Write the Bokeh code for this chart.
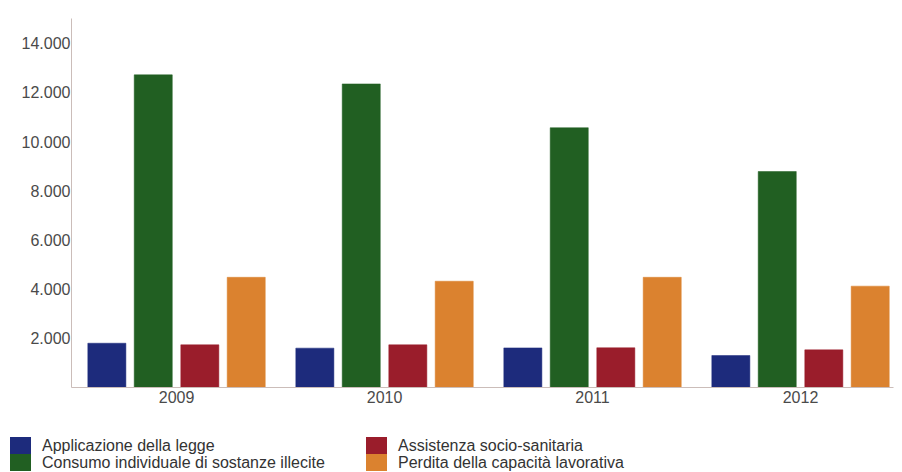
from bokeh.plotting import figure
from bokeh.layouts import column
from bokeh.models import ColumnDataSource, Range1d, FixedTicker, CustomJSTickFormatter, Div
from bokeh.transform import dodge
from bokeh.embed import file_html
from bokeh.resources import INLINE

years = ["2009", "2010", "2011", "2012"]
applicazione = [1800, 1600, 1610, 1300]
consumo = [12710, 12340, 10560, 8780]
assistenza = [1735, 1735, 1615, 1530]
perdita = [4480, 4320, 4480, 4120]

series_names = ["Applicazione della legge", "Consumo individuale di sostanze illecite",
                "Assistenza socio-sanitaria", "Perdita della capacità lavorativa"]
series_keys = ["applicazione", "consumo", "assistenza", "perdita"]
colors = ["#1d2b7c", "#215f22", "#9a1d2b", "#db822f"]
offsets = [-0.335, -0.112, 0.112, 0.335]
y_ticks = [2000, 4000, 6000, 8000, 10000, 12000, 14000]

source = ColumnDataSource(dict(
    x=list(range(len(years))),
    applicazione=applicazione, consumo=consumo,
    assistenza=assistenza, perdita=perdita,
))

p = figure(width=900, height=420, output_backend="svg", toolbar_location=None,
           x_range=Range1d(-0.505, 3.447), y_range=Range1d(0, 15000),
           min_border_left=71, min_border_right=7, min_border_top=18, min_border_bottom=33)
p.outline_line_color = None
p.xgrid.visible = False
p.ygrid.visible = False

for key, col, off in zip(series_keys, colors, offsets):
    p.vbar(x=dodge("x", off), top=key, width=0.183, source=source,
           fill_color=col, line_color=col, line_width=0.5)

axis_col = "#cbbdb9"
p.xaxis.ticker = FixedTicker(ticks=list(range(len(years))))
p.xaxis.major_label_overrides = {i: y for i, y in enumerate(years)}
p.yaxis.ticker = FixedTicker(ticks=y_ticks)
p.yaxis.formatter = CustomJSTickFormatter(code="return tick.toLocaleString('it-IT').replace(/\\s/g,'.');")
for ax in (p.xaxis, p.yaxis):
    ax.axis_line_color = axis_col
    ax.major_tick_line_color = None
    ax.minor_tick_line_color = None
    ax.major_tick_out = 0
    ax.major_tick_in = 0
    ax.minor_tick_out = 0
    ax.major_label_text_font = "Liberation Sans"
    ax.major_label_text_font_size = "16px"
    ax.major_label_text_color = "#4a4a4a"
p.yaxis.major_label_standoff = 1
p.xaxis.major_label_standoff = 3

# legend: two columns of two entries, swatch + label
col_x = [10, 366]
row_y = [17, 34]
parts = []
for i, (name, col) in enumerate(zip(series_names, colors)):
    cx = col_x[i // 2]
    ry = row_y[i % 2]
    parts.append(
        f'<div style="position:absolute;left:{cx}px;top:{ry}px;width:21px;height:17px;background:{col};"></div>'
        f'<div style="position:absolute;left:{cx + 32}px;top:{ry}px;height:17px;line-height:17px;'
        f'white-space:nowrap;">{name}</div>'
    )
legend_html = ('<div style="position:relative;width:900px;height:51px;'
               'font-family:\'Liberation Sans\',Arial,sans-serif;font-size:16px;color:#333333;">'
               + "".join(parts) + '</div>')
legend_div = Div(text=legend_html, width=900, height=51, margin=0)

layout = column(p, legend_div, spacing=0)
open("out.html", "w").write(file_html(layout, INLINE))
